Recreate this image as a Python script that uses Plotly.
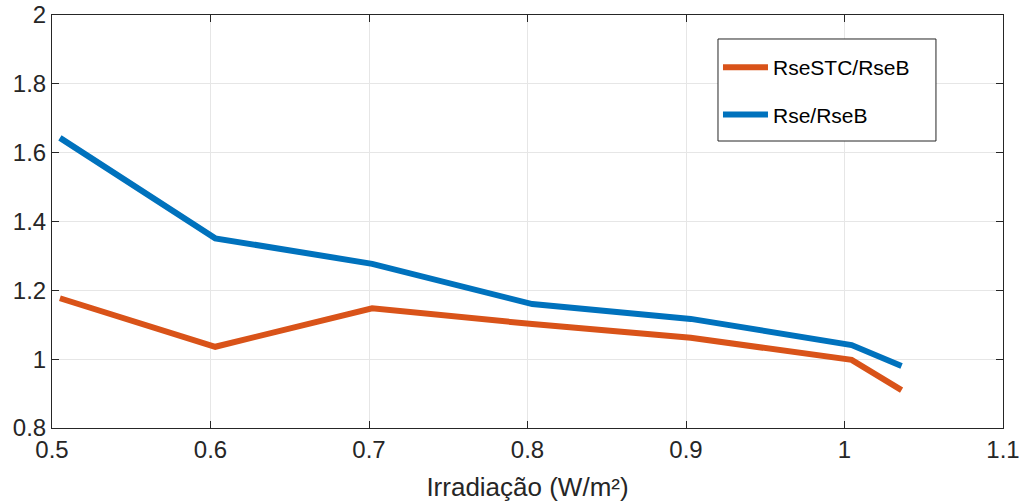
import plotly.graph_objects as go

x_vals = [0.505, 0.603, 0.702, 0.803, 0.903, 1.0045, 1.036]
rse_stc_rseb = [1.177, 1.036, 1.148, 1.102, 1.062, 0.998, 0.910]
rse_rseb = [1.643, 1.351, 1.277, 1.160, 1.117, 1.041, 0.980]

x_ticks = [0.5, 0.6, 0.7, 0.8, 0.9, 1.0, 1.1]
x_tick_labels = ["0.5", "0.6", "0.7", "0.8", "0.9", "1", "1.1"]
y_ticks = [0.8, 1.0, 1.2, 1.4, 1.6, 1.8, 2.0]
y_tick_labels = ["0.8", "1", "1.2", "1.4", "1.6", "1.8", "2"]

font_family = "Liberation Sans, Arial, sans-serif"
axis_col = "#262626"

fig = go.Figure()
fig.add_trace(go.Scatter(x=x_vals, y=rse_stc_rseb, mode="lines", name="RseSTC/RseB",
                         line=dict(color="#D95319", width=6), legendgroup="a"))
fig.add_trace(go.Scatter(x=x_vals, y=rse_rseb, mode="lines", name="Rse/RseB",
                         line=dict(color="#0072BD", width=6), legendgroup="b"))

axis_common = dict(
    showline=True, linecolor=axis_col, linewidth=1, mirror="ticks",
    ticks="inside", ticklen=7, tickcolor=axis_col,
    showgrid=True, gridcolor="#E6E6E6", gridwidth=1, zeroline=False,
    tickfont=dict(family=font_family, size=24, color=axis_col),
    automargin=False, ticklabeloverflow="allow",
)

# legend frame (white box with dark border)
fig.add_shape(type="rect", xref="paper", yref="paper",
              x0=0.7003, x1=0.9295, y0=0.6949, y1=0.9419,
              line=dict(color=axis_col, width=1), fillcolor="white", layer="above")

fig.update_layout(
    width=1021, height=502,
    margin=dict(l=52, r=18, t=15, b=74),
    paper_bgcolor="white", plot_bgcolor="white",
    xaxis=dict(range=[0.5, 1.1], tickvals=x_ticks, ticktext=x_tick_labels,
               title=dict(text="Irradiação (W/m²)", font=dict(family=font_family, size=26, color=axis_col), standoff=18),
               **axis_common),
    yaxis=dict(range=[0.8, 2.0], tickvals=y_ticks, ticktext=y_tick_labels, **axis_common),
    legend=dict(x=0.7003, y=0.9225, xanchor="left", yanchor="top",
                bgcolor="rgba(0,0,0,0)", borderwidth=0,
                font=dict(family=font_family, size=21, color="#000000"),
                tracegroupgap=17, itemwidth=45),
)

# remove the default 8px page margin so the figure fills the window exactly
fig.write_html("out.html", config={"displayModeBar": False},
               post_script="document.body.style.margin='0';document.body.style.overflow='hidden';")
